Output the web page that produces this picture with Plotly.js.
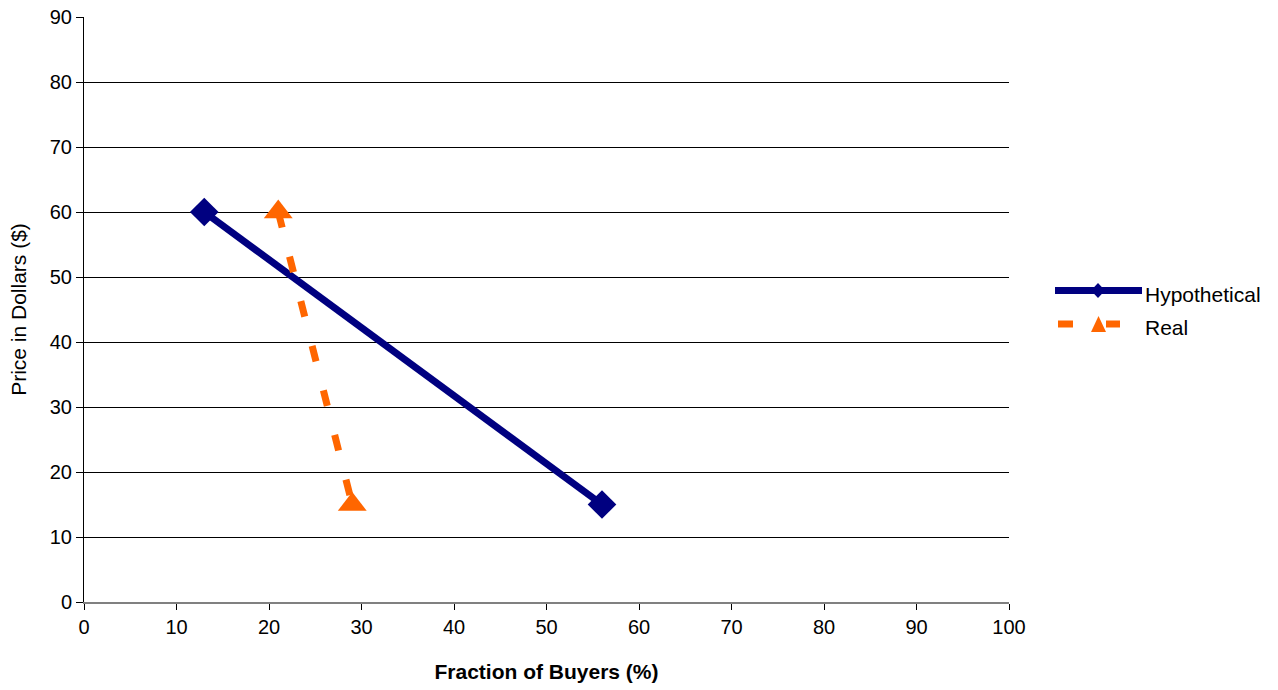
<!DOCTYPE html>
<html><head><meta charset="utf-8">
<script src="https://cdn.plot.ly/plotly-3.0.1.min.js"></script>
<style>html,body{margin:0;padding:0;background:#fff}#c{width:1278px;height:690px}</style>
</head><body><div id="c"></div>
<script>
const hypoX = [13, 56];
const hypoY = [60, 15];
const realX = [21, 29];
const realY = [60, 15];
const seriesNames = ['Hypothetical', 'Real'];
const xTicks = [0,10,20,30,40,50,60,70,80,90,100];
const yTicks = [0,10,20,30,40,50,60,70,80,90];

const NAVY = '#000080', ORANGE = '#FF6600';
const W = 1278, H = 690;
const M = {l: 84, r: 269, t: 17, b: 88};
const PW = W - M.l - M.r, PH = H - M.t - M.b;
const px = v => (v - M.l) / PW;
const py = v => (H - M.b - v) / PH;

const traces = [
  {x: hypoX, y: hypoY, name: seriesNames[0], mode: 'lines+markers', type: 'scatter',
   line: {color: NAVY, width: 7}, marker: {symbol: 'diamond', size: 22, color: NAVY}},
  {x: realX, y: realY, name: seriesNames[1], mode: 'lines+markers', type: 'scatter',
   line: {color: ORANGE, width: 7, dash: '16px,30px'}, marker: {symbol: 'triangle-up', size: 25, color: ORANGE}}
];
const FAM = 'Liberation Sans, Arial, sans-serif';
const tickFont = {family: FAM, size: 20, color: '#000'};
const titleFont = {family: FAM, size: 21, color: '#000'};

// custom legend (shapes in paper coords)
function poly(pts) {
  return 'M' + pts.map(p => px(p[0]) + ',' + py(p[1])).join(' L') + ' Z';
}
const shapes = [
  {type: 'line', xref: 'paper', yref: 'paper', x0: px(1055), x1: px(1142), y0: py(290.5), y1: py(290.5),
   line: {color: NAVY, width: 7}},
  {type: 'path', xref: 'paper', yref: 'paper', path: poly([[1098,283],[1105,290.5],[1098,298],[1091,290.5]]),
   fillcolor: NAVY, line: {width: 0}},
  {type: 'line', xref: 'paper', yref: 'paper', x0: px(1058), x1: px(1073), y0: py(324), y1: py(324),
   line: {color: ORANGE, width: 7}},
  {type: 'line', xref: 'paper', yref: 'paper', x0: px(1106), x1: px(1120), y0: py(324), y1: py(324),
   line: {color: ORANGE, width: 7}},
  {type: 'path', xref: 'paper', yref: 'paper', path: poly([[1091,332],[1106,332],[1098.5,316]]),
   fillcolor: ORANGE, line: {width: 0}}
];
const annotations = [
  {xref: 'paper', yref: 'paper', x: px(1143), y: py(294), xanchor: 'left', yanchor: 'middle', showarrow: false,
   text: seriesNames[0], font: titleFont},
  {xref: 'paper', yref: 'paper', x: px(1143), y: py(327), xanchor: 'left', yanchor: 'middle', showarrow: false,
   text: seriesNames[1], font: titleFont}
];

const layout = {
  width: W, height: H,
  margin: M,
  paper_bgcolor: '#fff', plot_bgcolor: '#fff',
  font: tickFont,
  showlegend: false,
  shapes: shapes,
  annotations: annotations,
  xaxis: {range: [0, 100], tickvals: xTicks, ticktext: xTicks.map(String), ticks: 'outside', ticklen: 6,
    tickcolor: '#000', tickfont: tickFont, showline: true, linecolor: '#808080', linewidth: 2, showgrid: false, zeroline: false,
    title: {text: '<b>Fraction of Buyers (%)</b>', font: titleFont, standoff: 27}},
  yaxis: {range: [0, 90], tickvals: yTicks, ticktext: yTicks.map(String), ticks: 'outside', ticklen: 7,
    tickcolor: '#000', tickfont: tickFont, showline: true, linecolor: '#000', linewidth: 1, showgrid: true, gridcolor: '#000', gridwidth: 1,
    zeroline: false,
    title: {text: 'Price in Dollars ($)', font: titleFont, standoff: 17}}
};
Plotly.newPlot('c', traces, layout, {displayModeBar: false, staticPlot: true});
</script></body></html>
